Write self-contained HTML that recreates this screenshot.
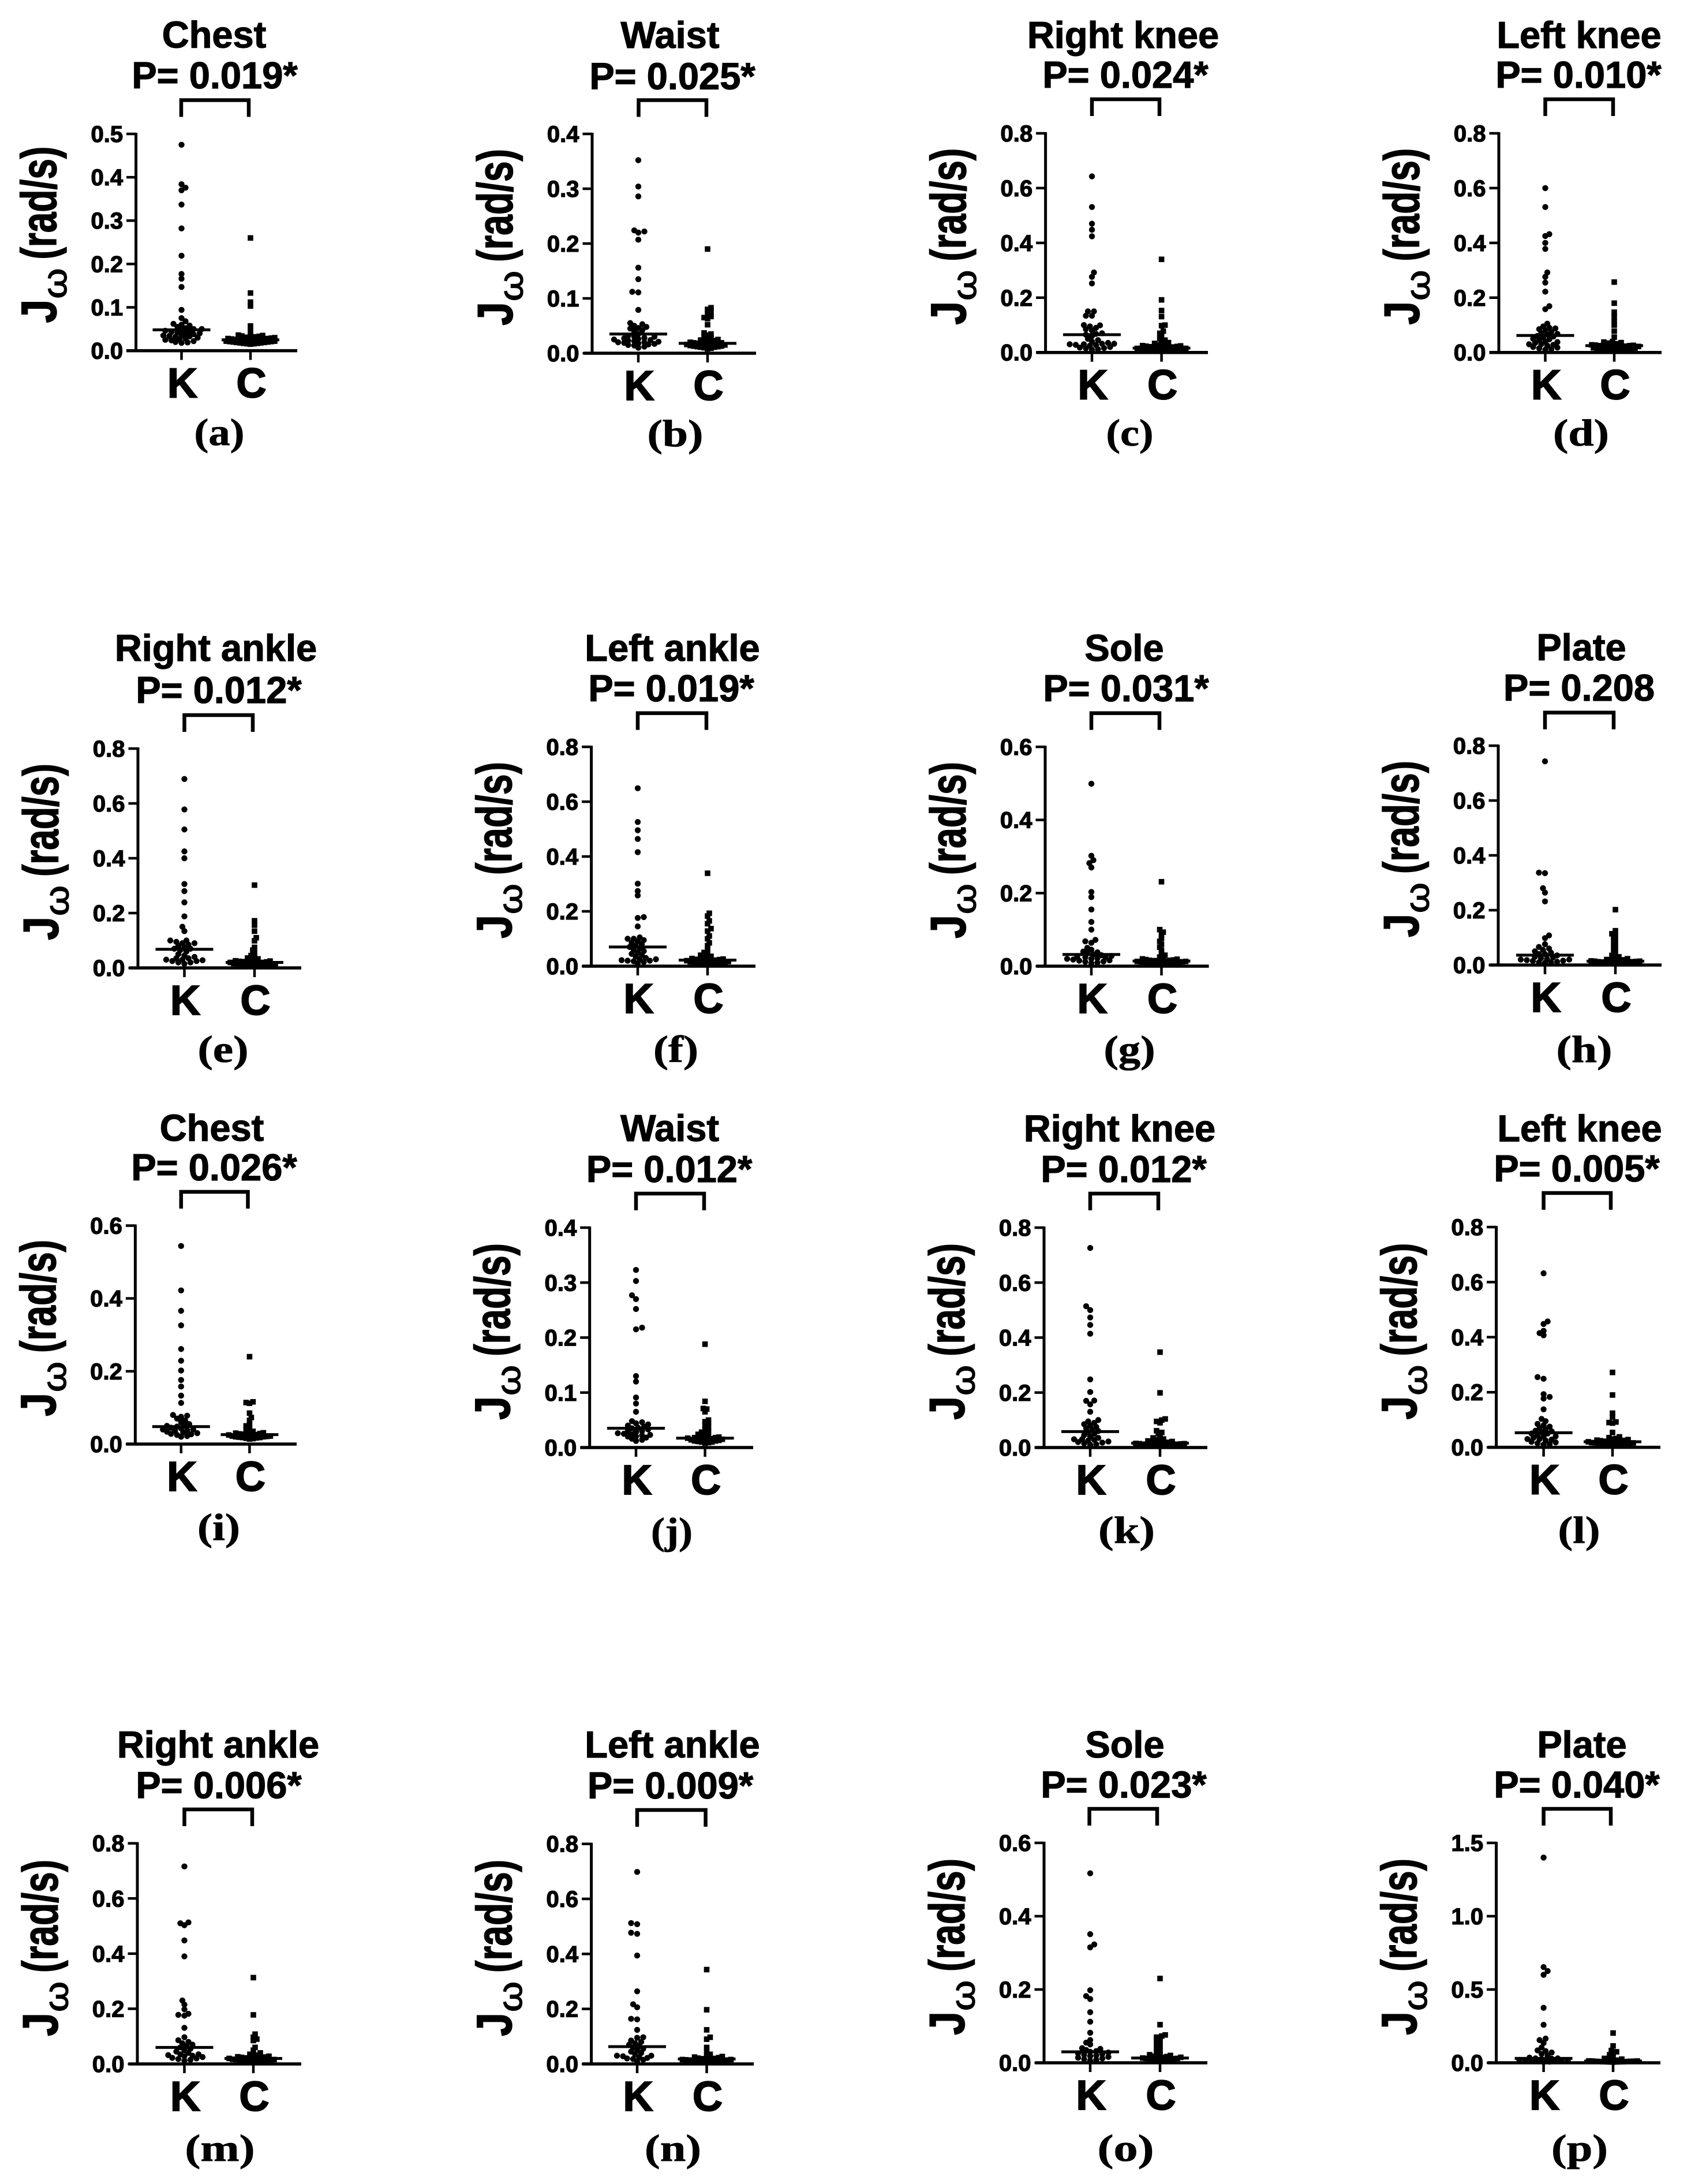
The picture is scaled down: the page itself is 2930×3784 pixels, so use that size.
<!DOCTYPE html>
<html lang="en">
<head>
<meta charset="utf-8">
<title>Angular velocity jerk comparison, K and C groups</title>
<style>
html,body{margin:0;padding:0;background:#fff;}
svg{display:block;}
text{fill:#000;font-family:"Liberation Sans",Arial,sans-serif;}
.title{font-size:65px;font-weight:700;text-anchor:middle;stroke:#000;stroke-width:1.2px;}
.tick{font-size:40px;font-weight:700;text-anchor:end;stroke:#000;stroke-width:1.3px;}
.cat{font-size:72px;font-weight:700;text-anchor:middle;stroke:#000;stroke-width:2px;}
.cap{font-family:"Liberation Serif",serif;font-size:66px;font-weight:700;text-anchor:middle;stroke:#000;stroke-width:.8px;}
.yl{font-size:86px;font-weight:700;stroke:#000;stroke-width:1.6px;}
.yo{font-size:58px;font-weight:400;stroke:#000;stroke-width:1.4px;}
</style>
</head>
<body>
<svg id="chart" xmlns="http://www.w3.org/2000/svg" width="2930" height="3784" viewBox="0 0 2930 3784"></svg>
<script>
// ---- labels ----
const letters = ['a','b','c','d','e','f','g','h','i','j','k','l','m','n','o','p'];
const titles = ['Chest','Waist','Right knee','Left knee','Right ankle','Left ankle','Sole','Plate','Chest','Waist','Right knee','Left knee','Right ankle','Left ankle','Sole','Plate'];
const pLabels = ['P= 0.019*','P= 0.025*','P= 0.024*','P= 0.010*','P= 0.012*','P= 0.019*','P= 0.031*','P= 0.208','P= 0.026*','P= 0.012*','P= 0.012*','P= 0.005*','P= 0.006*','P= 0.009*','P= 0.023*','P= 0.040*'];
const categories = ['K','C'];

// ---- axis ticks ----
const ticksFive = [0, 0.1, 0.2, 0.3, 0.4, 0.5];
const ticksFour = [0, 0.1, 0.2, 0.3, 0.4];
const ticksEight = [0, 0.2, 0.4, 0.6, 0.8];
const ticksSix = [0, 0.2, 0.4, 0.6];
const ticksPlate = [0, 0.5, 1.0, 1.5];
const panelTicks = [ticksFive,ticksFour,ticksEight,ticksEight,ticksEight,ticksEight,ticksSix,ticksEight,ticksSix,ticksFour,ticksEight,ticksEight,ticksEight,ticksEight,ticksSix,ticksPlate];

// ---- medians ----
const medianK = [0.048,0.035,0.065,0.062,0.068,0.07,0.032,0.036,0.048,0.035,0.058,0.053,0.06,0.063,0.03,0.03];
const medianC = [0.025,0.018,0.016,0.025,0.02,0.022,0.014,0.014,0.026,0.017,0.016,0.02,0.02,0.018,0.013,0.012];

// ---- series values ----
const kA = [0.475,0.384,0.376,0.37,0.337,0.282,0.219,0.177,0.166,0.147,0.094,0.075,0.068,0.062,0.06,0.058,0.055,0.052,0.05,0.05,0.048,0.046,0.045,0.043,0.042,0.04,0.04,0.038,0.036,0.035,0.034,0.033,0.032,0.03,0.028,0.027,0.025,0.024,0.022,0.02,0.019,0.018];
const cA = [0.26,0.133,0.112,0.103,0.057,0.047,0.037,0.036,0.035,0.034,0.033,0.032,0.031,0.03,0.03,0.029,0.029,0.028,0.028,0.027,0.027,0.026,0.026,0.025,0.025,0.024,0.024,0.023,0.023,0.022,0.022,0.021,0.021,0.02,0.02,0.019,0.019,0.018,0.018,0.017,0.017,0.016,0.016,0.015];
const kB = [0.352,0.304,0.286,0.224,0.222,0.22,0.207,0.156,0.135,0.112,0.111,0.079,0.055,0.053,0.05,0.048,0.046,0.045,0.042,0.04,0.035,0.032,0.03,0.03,0.028,0.027,0.026,0.025,0.024,0.023,0.022,0.021,0.02,0.02,0.019,0.018,0.017,0.016,0.015,0.014,0.012,0.01];
const cB = [0.19,0.083,0.08,0.076,0.072,0.067,0.065,0.063,0.052,0.037,0.035,0.033,0.03,0.028,0.026,0.025,0.024,0.023,0.022,0.021,0.02,0.02,0.019,0.019,0.018,0.018,0.017,0.017,0.016,0.016,0.015,0.015,0.014,0.014,0.013,0.013,0.012,0.012,0.011,0.011,0.01,0.009,0.008];
const kC = [0.643,0.531,0.47,0.448,0.424,0.292,0.276,0.252,0.15,0.15,0.134,0.134,0.1,0.099,0.095,0.09,0.085,0.08,0.07,0.068,0.065,0.06,0.05,0.045,0.04,0.035,0.032,0.032,0.03,0.03,0.028,0.027,0.025,0.02,0.018,0.016,0.015,0.012,0.01];
const cC = [0.34,0.192,0.153,0.131,0.1,0.098,0.078,0.07,0.06,0.05,0.045,0.04,0.036,0.033,0.03,0.028,0.026,0.025,0.024,0.023,0.022,0.021,0.02,0.02,0.019,0.018,0.017,0.016,0.016,0.015,0.015,0.014,0.014,0.013,0.012,0.012,0.011,0.01,0.01,0.009,0.008,0.007,0.006,0.005];
const kD = [0.6,0.531,0.432,0.425,0.4,0.378,0.292,0.276,0.255,0.222,0.169,0.158,0.105,0.095,0.09,0.088,0.085,0.08,0.075,0.07,0.068,0.065,0.06,0.058,0.055,0.05,0.048,0.045,0.04,0.038,0.035,0.03,0.03,0.028,0.025,0.02,0.018,0.015,0.012,0.01];
const cD = [0.257,0.18,0.147,0.131,0.115,0.1,0.078,0.056,0.04,0.038,0.036,0.034,0.032,0.03,0.029,0.028,0.027,0.026,0.025,0.025,0.024,0.023,0.022,0.022,0.021,0.02,0.02,0.019,0.018,0.017,0.016,0.015,0.015,0.014,0.013,0.012,0.011,0.01,0.01,0.009,0.008,0.007];
const kE = [0.689,0.578,0.505,0.425,0.4,0.306,0.28,0.239,0.188,0.15,0.134,0.1,0.1,0.095,0.09,0.09,0.085,0.08,0.075,0.07,0.07,0.065,0.06,0.05,0.045,0.04,0.035,0.035,0.03,0.03,0.028,0.025,0.025,0.02,0.02,0.015];
const cE = [0.302,0.172,0.156,0.134,0.11,0.099,0.075,0.065,0.055,0.045,0.04,0.036,0.033,0.03,0.028,0.026,0.025,0.024,0.023,0.022,0.021,0.02,0.02,0.019,0.018,0.017,0.016,0.016,0.015,0.014,0.014,0.013,0.012,0.011,0.01,0.009,0.008,0.007,0.006,0.005];
const kF = [0.649,0.526,0.496,0.464,0.416,0.301,0.274,0.258,0.179,0.176,0.145,0.105,0.1,0.1,0.095,0.09,0.085,0.08,0.075,0.07,0.065,0.06,0.055,0.05,0.045,0.04,0.035,0.03,0.025,0.025,0.022,0.02,0.02,0.018,0.015,0.01];
const cF = [0.339,0.193,0.183,0.165,0.155,0.137,0.128,0.11,0.1,0.085,0.075,0.06,0.05,0.045,0.04,0.036,0.033,0.03,0.028,0.026,0.025,0.024,0.023,0.022,0.021,0.02,0.02,0.019,0.018,0.017,0.016,0.015,0.015,0.014,0.013,0.012,0.011,0.01,0.009,0.008,0.007];
const kG = [0.499,0.302,0.29,0.282,0.27,0.203,0.189,0.155,0.121,0.1,0.072,0.068,0.064,0.05,0.045,0.04,0.038,0.035,0.032,0.03,0.028,0.026,0.025,0.024,0.022,0.02,0.02,0.018,0.016,0.015,0.013,0.012,0.01,0.008];
const cG = [0.231,0.1,0.093,0.085,0.076,0.068,0.06,0.052,0.044,0.035,0.03,0.025,0.022,0.02,0.019,0.018,0.017,0.016,0.016,0.015,0.015,0.014,0.014,0.013,0.013,0.012,0.012,0.011,0.011,0.01,0.01,0.009,0.009,0.008,0.008,0.007,0.006,0.005];
const kH = [0.743,0.337,0.335,0.28,0.264,0.232,0.108,0.098,0.076,0.066,0.06,0.055,0.05,0.045,0.04,0.04,0.035,0.03,0.028,0.025,0.022,0.02,0.02,0.018,0.016,0.015,0.012,0.01,0.01,0.008];
const cH = [0.202,0.125,0.114,0.105,0.095,0.085,0.075,0.065,0.055,0.045,0.035,0.03,0.026,0.023,0.02,0.019,0.018,0.017,0.016,0.015,0.015,0.014,0.014,0.013,0.012,0.012,0.011,0.01,0.01,0.009,0.008,0.008,0.007,0.006,0.005];
const kI = [0.544,0.422,0.366,0.326,0.261,0.229,0.202,0.176,0.158,0.133,0.113,0.08,0.078,0.075,0.07,0.065,0.06,0.055,0.05,0.05,0.048,0.045,0.043,0.04,0.04,0.038,0.036,0.034,0.032,0.03,0.028,0.027,0.025,0.022,0.02];
const cI = [0.24,0.116,0.114,0.112,0.085,0.073,0.065,0.055,0.05,0.045,0.04,0.035,0.033,0.031,0.03,0.029,0.028,0.027,0.026,0.025,0.025,0.024,0.023,0.022,0.022,0.021,0.02,0.02,0.019,0.018,0.018,0.017,0.016,0.015,0.014];
const kJ = [0.323,0.303,0.277,0.27,0.252,0.218,0.215,0.13,0.12,0.091,0.08,0.065,0.048,0.046,0.044,0.042,0.04,0.038,0.036,0.035,0.033,0.03,0.03,0.028,0.026,0.025,0.024,0.023,0.022,0.02,0.02,0.018,0.016,0.014,0.012];
const cJ = [0.188,0.084,0.071,0.07,0.065,0.05,0.047,0.044,0.04,0.037,0.034,0.03,0.028,0.026,0.024,0.022,0.021,0.02,0.019,0.018,0.018,0.017,0.017,0.016,0.016,0.015,0.015,0.014,0.014,0.013,0.012,0.012,0.011,0.01,0.01,0.009,0.008];
const kK = [0.726,0.514,0.5,0.473,0.446,0.414,0.248,0.202,0.171,0.17,0.157,0.13,0.1,0.095,0.09,0.085,0.08,0.075,0.07,0.065,0.06,0.055,0.05,0.045,0.04,0.035,0.03,0.03,0.028,0.025,0.022,0.02,0.018,0.015,0.012,0.01];
const cK = [0.347,0.199,0.104,0.1,0.095,0.09,0.061,0.055,0.05,0.04,0.035,0.031,0.028,0.026,0.024,0.022,0.02,0.019,0.018,0.017,0.016,0.016,0.015,0.014,0.014,0.013,0.012,0.012,0.011,0.01,0.01,0.009,0.008,0.008,0.007,0.006,0.005];
const kL = [0.632,0.457,0.448,0.423,0.415,0.407,0.255,0.249,0.193,0.183,0.177,0.138,0.103,0.095,0.085,0.08,0.075,0.07,0.065,0.06,0.058,0.055,0.05,0.05,0.045,0.04,0.04,0.035,0.03,0.03,0.028,0.025,0.02,0.018,0.015,0.012,0.01];
const cL = [0.272,0.19,0.124,0.11,0.092,0.09,0.088,0.054,0.038,0.035,0.032,0.03,0.028,0.026,0.025,0.024,0.023,0.022,0.021,0.02,0.02,0.019,0.018,0.017,0.016,0.016,0.015,0.014,0.013,0.012,0.012,0.011,0.01,0.009,0.008,0.007];
const kM = [0.716,0.513,0.51,0.503,0.448,0.39,0.23,0.215,0.198,0.182,0.178,0.175,0.131,0.097,0.086,0.08,0.075,0.07,0.065,0.06,0.055,0.05,0.045,0.04,0.035,0.035,0.032,0.03,0.028,0.025,0.022,0.02,0.018,0.015,0.012];
const cM = [0.313,0.178,0.108,0.097,0.09,0.085,0.06,0.05,0.04,0.035,0.032,0.03,0.028,0.026,0.025,0.024,0.023,0.022,0.021,0.02,0.02,0.019,0.018,0.017,0.016,0.016,0.015,0.014,0.013,0.012,0.012,0.011,0.01,0.009,0.008,0.007];
const kN = [0.698,0.512,0.508,0.477,0.473,0.394,0.264,0.217,0.206,0.164,0.162,0.124,0.097,0.095,0.085,0.08,0.075,0.07,0.065,0.06,0.055,0.05,0.045,0.04,0.035,0.03,0.03,0.028,0.025,0.022,0.02,0.018,0.015,0.01];
const cN = [0.343,0.197,0.124,0.097,0.09,0.06,0.044,0.035,0.03,0.027,0.025,0.023,0.021,0.02,0.019,0.018,0.018,0.017,0.016,0.016,0.015,0.014,0.014,0.013,0.012,0.012,0.011,0.01,0.01,0.009,0.008,0.007,0.006];
const kO = [0.517,0.351,0.323,0.315,0.198,0.182,0.174,0.138,0.112,0.082,0.062,0.055,0.05,0.04,0.038,0.035,0.032,0.03,0.028,0.026,0.024,0.022,0.02,0.018,0.016,0.014,0.012,0.01,0.008,0.006];
const cO = [0.23,0.104,0.076,0.073,0.07,0.065,0.06,0.055,0.05,0.045,0.04,0.035,0.03,0.026,0.022,0.02,0.018,0.017,0.016,0.015,0.015,0.014,0.013,0.012,0.012,0.011,0.01,0.01,0.009,0.008,0.007,0.006,0.005];
const kP = [1.4,0.653,0.626,0.6,0.375,0.259,0.165,0.155,0.135,0.104,0.085,0.08,0.07,0.06,0.05,0.035,0.03,0.03,0.028,0.025,0.022,0.02,0.018,0.016,0.015,0.012,0.01,0.01,0.008,0.006];
const cP = [0.203,0.115,0.084,0.075,0.065,0.055,0.04,0.03,0.025,0.02,0.018,0.015,0.014,0.013,0.012,0.012,0.011,0.01,0.01,0.009,0.009,0.008,0.008,0.007,0.007,0.006,0.006,0.005];
const seriesK = [kA,kB,kC,kD,kE,kF,kG,kH,kI,kJ,kK,kL,kM,kN,kO,kP];
const seriesC = [cA,cB,cC,cD,cE,cF,cG,cH,cI,cJ,cK,cL,cM,cN,cO,cP];

// ---- panel geometry (layout only, no data) ----
// axis x, axis top y, baseline y, K x, C x, axis left, axis right, bracket left, bracket right, bracket top
const frames = [
 [235.6,232,607.6,314.5,434,219,515,314,431,173.5],
 [1026,232,612,1106,1226,1011,1310,1106.5,1224,173.5],
 [1811.6,231,610.7,1892,2012.6,1796,2093,1892,2009,172],
 [2597,231,610.7,2677.5,2797,2580.5,2879,2677.5,2795,172],
 [239,1297,1677,319.5,441,224,522,319.5,438,1239],
 [1024.6,1294,1674,1105,1226,1009,1309,1105,1224,1235.6],
 [1811,1294,1674,1891,2012.5,1796,2094.6,1891,2009,1235.6],
 [2596,1292,1672,2677,2799,2581,2879,2677,2796,1234.6],
 [234.4,2123.5,2502,313.8,432.4,219,514,313.8,429.5,2065],
 [1021.7,2127,2508,1102,1221.6,1006,1305,1102,1220,2068],
 [1809,2127,2508,1889,2010,1793.7,2092,1889,2007,2068],
 [2592.6,2126,2507.6,2674.6,2794,2578,2877,2674.6,2791,2067],
 [238,3193.7,3576,319.5,439,223,522,319.5,437,3135],
 [1024.6,3194.7,3576,1104,1224.5,1009,1306,1104,1222.6,3136],
 [1809,3193,3574,1889,2010,1793.7,2092,1887.6,2005,3134],
 [2592.6,3193,3574,2674.6,2795,2578,2877,2674.6,2791,3134]
];
// title x, title baseline, p x, p baseline, caption x, caption baseline, caption width
const textSpots = [
 [371,82.6,372,153,380,771,87],
 [1161,83,1165,154.6,1170,773,97],
 [1946,83,1950,152,1957.5,772,82],
 [2736,83,2735,152,2739.5,772,97],
 [374,1145,379,1218,386.5,1840,88],
 [1165,1145,1163,1215,1171,1840,78],
 [1948,1145,1951,1215,1957,1840,89],
 [2740,1144,2736,1214,2745,1840,97],
 [367,1976.5,371,2045,379,2668,74],
 [1160.6,1977,1159.6,2048,1164,2675,72],
 [1940,1977.5,1947,2048,1952,2673,98],
 [2737,1977.5,2732,2047,2736,2673,73],
 [378,3045,379,3115.6,381,3744,121],
 [1165,3045,1161.5,3116,1166,3744,98],
 [1949,3045,1947,3114.6,1950.5,3744,98],
 [2741,3045,2732,3114.6,2737,3744,98]
];

const NS = 'http://www.w3.org/2000/svg';
const root = document.getElementById('chart');

function make(tag, attrs, parent, content) {
  const el = document.createElementNS(NS, tag);
  for (const k in attrs) el.setAttribute(k, attrs[k]);
  if (content !== undefined) el.textContent = content;
  parent.appendChild(el);
  return el;
}
function yScale(fr, maxV, v) {
  return fr[2] - (v / maxV) * (fr[2] - fr[1]);
}
// beeswarm offsets computed from pixel positions
function swarm(ys, minDist, step, cap) {
  const placed = [];
  const order = ys.map((y, i) => i).sort((a, b) => ys[b] - ys[a]);
  const out = new Array(ys.length).fill(0);
  order.forEach((i, rank) => {
    const y = ys[i];
    let best = 0, bestGap = -1;
    const sign = rank % 2 ? 1 : -1;
    for (let n = 0; n * step <= cap; n++) {
      const cands = n === 0 ? [0] : [sign * n * step, -sign * n * step];
      let done = false;
      for (const dx of cands) {
        let gap = Infinity;
        for (const q of placed) gap = Math.min(gap, Math.hypot(q[0] - dx, q[1] - y));
        if (gap > bestGap) { bestGap = gap; best = dx; }
        if (gap >= minDist) { best = dx; done = true; break; }
      }
      if (done) break;
    }
    placed.push([best, y]);
    out[i] = best;
  });
  return out;
}

function line(parent, x1, y1, x2, y2, w) {
  return make('line', {x1, y1, x2, y2, stroke: '#000', 'stroke-width': w}, parent);
}

letters.forEach((letter, i) => {
  const fr = frames[i], sp = textSpots[i], ticks = panelTicks[i];
  const maxV = ticks[ticks.length - 1];
  const g = make('g', {}, root);
  
  

  const t1 = make('text', {class: 'title', x: sp[0], y: sp[1]}, g, titles[i]);
  
  
  const t2 = make('text', {class: 'title', x: sp[2], y: sp[3]}, g, pLabels[i]);
  
  

  const br = make('path', {d: 'M' + fr[7] + ' ' + (fr[9] + 29) + 'V' + fr[9] + 'H' + fr[8] + 'V' + (fr[9] + 29), fill: 'none', stroke: '#000', 'stroke-width': 6.5}, g);
  
  

  // y axis title, three stretched pieces
  const bx = fr[0] - 138.6;
  const j = make('text', {class: 'yl', transform: 'translate(' + bx + ',' + (fr[2] - 48) + ') rotate(-90)', textLength: 41, lengthAdjust: 'spacingAndGlyphs'}, g, 'J');
  
  
  const om = make('text', {class: 'yo', transform: 'translate(' + (fr[0] - 120.6) + ',' + (fr[2] - 90) + ') rotate(-90)', textLength: 53, lengthAdjust: 'spacingAndGlyphs'}, g, 'ω');
  
  
  const un = make('text', {class: 'yl', transform: 'translate(' + bx + ',' + (fr[2] - 158) + ') rotate(-90)', textLength: 196, lengthAdjust: 'spacingAndGlyphs'}, g, '(rad/s)');
  
  

  // axes
  const ya = line(g, fr[0], fr[1] - 2, fr[0], fr[2] + 2, 5);
  
  
  const xa = line(g, fr[5], fr[2], fr[6], fr[2], 5.5);
  
  

  ticks.forEach(v => {
    const y = yScale(fr, maxV, v);
    const tk = line(g, fr[0] - 16.5, y, fr[0], y, 4.5);
    
    
    const lb = make('text', {class: 'tick', x: fr[0] - 22.5, y: y + 14}, g, v.toFixed(1));
    
    
  });

  [fr[3], fr[4]].forEach((cx, c) => {
    const tk = line(g, cx, fr[2], cx, fr[2] + 16, 4.5);
    
    
    const lb = make('text', {class: 'cat', x: cx + 1.5, y: fr[2] + 81}, g, categories[c]);
    
    
  });

  // K points: circles
  const ysK = seriesK[i].map(v => yScale(fr, maxV, v));
  const offK = swarm(ysK, 7.6, 3.5, 42);
  ysK.forEach((y, n) => {
    const dot = make('circle', {cx: fr[3] + offK[n], cy: y, r: 5.2, fill: '#000'}, g);
    
    
  });
  // C points: squares
  const ysC = seriesC[i].map(v => yScale(fr, maxV, v));
  const offC = swarm(ysC, 5.5, 3, 42);
  ysC.forEach((y, n) => {
    const sq = make('rect', {x: fr[4] + offC[n] - 4.8, y: y - 4.8, width: 9.6, height: 9.6, fill: '#000'}, g);
    
    
  });

  // medians
  const my = yScale(fr, maxV, medianK[i]);
  const mk = line(g, fr[3] - 50, my, fr[3] + 50, my, 5);
  
  
  const cy = yScale(fr, maxV, medianC[i]);
  const mc = line(g, fr[4] - 50, cy, fr[4] + 50, cy, 5);
  
  

  const cap = make('text', {class: 'cap', x: sp[4], y: sp[5], textLength: sp[6], lengthAdjust: 'spacingAndGlyphs'}, g, '(' + letter + ')');
  
  
});
</script>
</body>
</html>
